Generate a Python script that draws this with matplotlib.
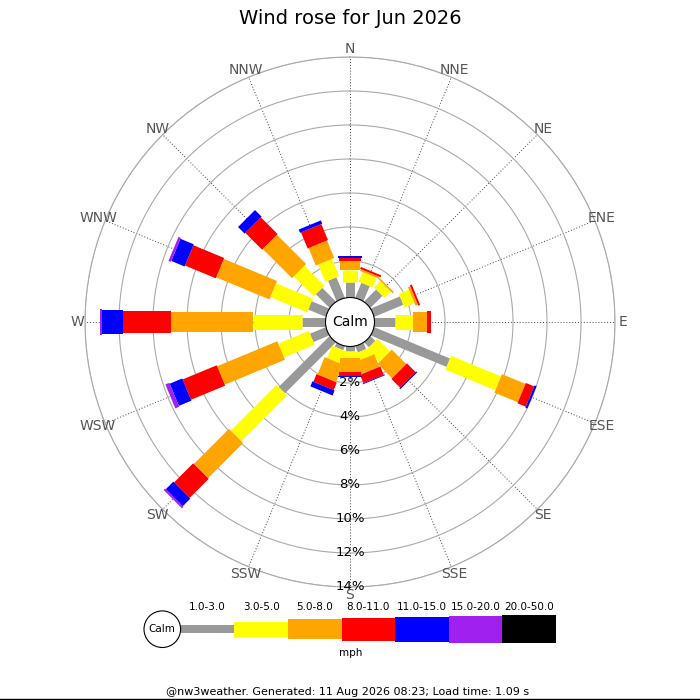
import numpy as np
import matplotlib
matplotlib.use('Agg')
import matplotlib.pyplot as plt
from matplotlib.patches import Circle

# ---------------- data ----------------
directions = ['N', 'NNE', 'NE', 'ENE', 'E', 'ESE', 'SE', 'SSE',
              'S', 'SSW', 'SW', 'WSW', 'W', 'WNW', 'NW', 'NNW']
speed_bins = ['1.0-3.0', '3.0-5.0', '5.0-8.0', '8.0-11.0',
              '11.0-15.0', '15.0-20.0', '20.0-50.0']
# frequency (%) per speed class, one value per direction (N .. NNW)
pct_1_3 = [0.78, 0.80, 0.85, 1.70, 1.06, 4.67, 0.25, 0.25, 0.10, 0.10, 4.08, 0.85, 1.24, 0.96, 0.99, 1.15]
pct_3_5 = [0.69, 0.61, 0.53, 0.64, 1.04, 3.18, 1.05, 0.46, 0.45, 0.79, 3.81, 1.95, 2.88, 2.34, 1.66, 1.10]
pct_5_8 = [0.53, 0.12, 0.10, 0.15, 0.82, 1.49, 1.20, 0.80, 0.78, 1.11, 2.92, 3.83, 4.82, 3.39, 2.43, 1.11]
pct_8_11 = [0.19, 0.12, 0.00, 0.12, 0.24, 0.53, 0.72, 0.53, 0.26, 0.48, 1.59, 2.17, 2.82, 1.96, 1.39, 1.02]
pct_11_15 = [0.09, 0.00, 0.00, 0.00, 0.00, 0.13, 0.08, 0.05, 0.06, 0.32, 0.63, 0.80, 1.26, 0.85, 0.55, 0.21]
pct_15_20 = [0.00, 0.00, 0.00, 0.00, 0.00, 0.00, 0.00, 0.00, 0.00, 0.00, 0.12, 0.25, 0.08, 0.15, 0.00, 0.00]
pct_20_50 = [0.00] * 16
ring_ticks = [2, 4, 6, 8, 10, 12, 14]
title = 'Wind rose for Jun 2026'
footer = '@nw3weather. Generated: 11 Aug 2026 08:23; Load time: 1.09 s'
unit = 'mph'

# ---------------- style ----------------
colors = ['#999999', '#ffff00', '#ffa500', '#ff0000', '#0000ff', '#a020f0', '#000000']
bar_px = [9, 15, 20, 22, 24, 26, 28]          # bar thickness in pixels per class
leg_px = [8, 15, 20, 23, 25, 27, 28]
DPI = 100
px2pt = 72.0 / DPI

fig = plt.figure(figsize=(7, 7), dpi=DPI)
fig.patch.set_facecolor('white')

# polar axes: centre (350,322) px, outer radius 265 px
R_OUT = 265
cx, cy = 350, 322
ax = fig.add_axes([(cx - R_OUT) / 700, (700 - cy - R_OUT) / 700, 2 * R_OUT / 700, 2 * R_OUT / 700],
                  projection='polar')
ax.set_theta_zero_location('N')
ax.set_theta_direction(-1)
rmax = 14
r_bottom = -27.0 / 17.0
ax.set_ylim(r_bottom, rmax)

thetas = np.deg2rad(np.arange(16) * 22.5)
ax.set_xticks(thetas)
ax.set_xticklabels([])
ax.set_yticks(ring_ticks)
ax.set_yticklabels([])
ax.tick_params(axis='both', length=0)
ax.xaxis.grid(True, color='#444444', linestyle=(0, (1, 2)), linewidth=0.7)
ax.yaxis.grid(True, color='#aaaaaa', linestyle='-', linewidth=0.8)
ax.spines['polar'].set_color('#aaaaaa')
ax.spines['polar'].set_linewidth(0.8)
ax.set_axisbelow(True)

series = [pct_1_3, pct_3_5, pct_5_8, pct_8_11, pct_11_15, pct_15_20, pct_20_50]
cum = np.cumsum(np.array(series, dtype=float), axis=0)
for k in range(len(series)):
    for i, th in enumerate(thetas):
        v = series[k][i]
        if v <= 0:
            continue
        start = r_bottom if k == 0 else cum[k - 1][i]
        end = cum[k][i]
        ax.plot([th, th], [start, end], color=colors[k], linewidth=bar_px[k] * px2pt,
                solid_capstyle='butt', zorder=3 + k)

# calm circle
ax.add_patch(Circle((0.5, 0.5), 24.5 / (2 * R_OUT), transform=ax.transAxes,
                    facecolor='white', edgecolor='black', linewidth=0.8, zorder=20))
ax.text(0.5, 0.5, 'Calm', transform=ax.transAxes, ha='center', va='center',
        fontsize=10, zorder=21)

# ring labels along south
for t in ring_ticks:
    ax.text(np.pi, t, f'{t}%', ha='center', va='center', fontsize=9.5, color='black', zorder=22)

# direction labels
for th, d in zip(thetas, directions):
    ax.text(th, 14.45, d, ha='center', va='center', fontsize=10, color='#555555',
            clip_on=False, zorder=22)

# ---------------- overlay (pixel coordinates) ----------------
ov = fig.add_axes([0, 0, 1, 1])
ov.set_xlim(0, 700)
ov.set_ylim(700, 0)
ov.axis('off')

ov.text(350, 18, title, ha='center', va='center', fontsize=14)

leg_x0, leg_w, leg_y = 180.7, 53.6, 629.2
for k, lab in enumerate(speed_bins):
    h = leg_px[k]
    ov.bar(leg_x0 + k * leg_w, h, width=leg_w, bottom=leg_y - h / 2, align='edge',
           color=colors[k], linewidth=0)
    ov.text(leg_x0 + (k + 0.5) * leg_w, 606.5, lab, ha='center', va='center', fontsize=7.5)
ov.add_patch(Circle((162.3, 629.2), 18.3, facecolor='white', edgecolor='black', linewidth=0.8))
ov.text(162.3, 629.2, 'Calm', ha='center', va='center', fontsize=7.5)
ov.text(350.7, 653.5, unit, ha='center', va='center', fontsize=7.5)
ov.text(348, 692, footer, ha='center', va='center', fontsize=8)
ov.plot([0, 700], [698.8, 698.8], color='black', linewidth=1)

fig.savefig('out.png', dpi=DPI)
